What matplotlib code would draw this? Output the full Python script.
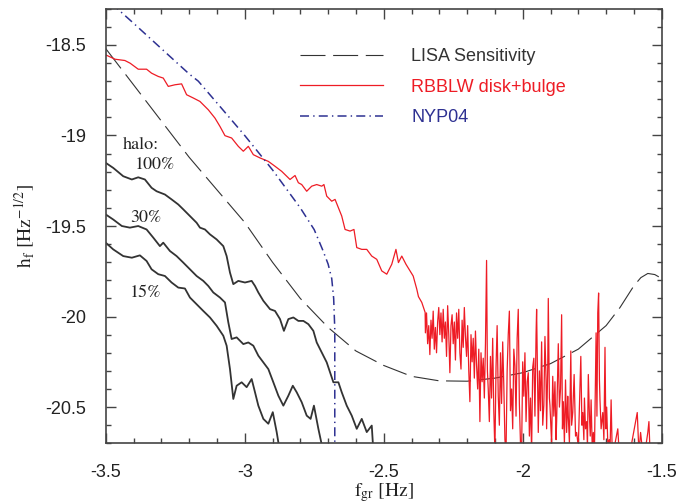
import matplotlib
matplotlib.use("Agg")
import matplotlib.pyplot as plt
from matplotlib.ticker import MultipleLocator, FuncFormatter

# ---------------- data ----------------
lisa_x = [-3.5, -3.4, -3.3, -3.2, -3.1, -3.0, -2.9, -2.8, -2.7, -2.6, -2.5, -2.4,
          -2.3, -2.2, -2.1, -2.0, -1.9, -1.8, -1.7, -1.65, -1.6, -1.575, -1.55, -1.525, -1.5]
lisa_y = [-18.52, -18.72, -18.92, -19.12, -19.30, -19.48, -19.70, -19.90, -20.06, -20.19,
          -20.27, -20.33, -20.355, -20.357, -20.34, -20.31, -20.26, -20.18, -20.05, -19.95,
          -19.83, -19.785, -19.762, -19.768, -19.79]

nyp_x = [-3.48, -3.4, -3.3, -3.2, -3.167, -3.1, -3.0, -2.9, -2.8, -2.75, -2.72, -2.70,
         -2.687, -2.68, -2.676, -2.676]
nyp_y = [-18.27, -18.38, -18.52, -18.66, -18.70, -18.82, -19.00, -19.19, -19.40, -19.52,
         -19.63, -19.71, -19.79, -19.90, -20.07, -20.80]

# RBBLW: smooth-ish upper part
rb_top_x = [-3.500, -3.466, -3.431, -3.412, -3.383, -3.353, -3.335, -3.311, -3.293, -3.275,
            -3.251, -3.227, -3.209, -3.185, -3.161, -3.131, -3.107, -3.089, -3.071, -3.047,
            -3.023, -3.005, -2.987, -2.969, -2.945, -2.915, -2.891, -2.867, -2.855, -2.837,
            -2.819, -2.807, -2.795, -2.777, -2.759, -2.741, -2.723, -2.715, -2.705, -2.687,
            -2.675, -2.663, -2.651, -2.639, -2.621, -2.607, -2.597, -2.579, -2.561, -2.543,
            -2.525, -2.507, -2.489, -2.471, -2.456, -2.447, -2.435, -2.420, -2.405, -2.394,
            -2.381, -2.375, -2.363, -2.351]
rb_top_y = [-18.555, -18.579, -18.586, -18.601, -18.634, -18.634, -18.656, -18.674, -18.683, -18.729,
            -18.720, -18.715, -18.775, -18.793, -18.812, -18.858, -18.904, -18.950, -19.001, -19.014,
            -19.060, -19.087, -19.060, -19.106, -19.124, -19.143, -19.170, -19.198, -19.216, -19.243,
            -19.221, -19.261, -19.271, -19.308, -19.280, -19.271, -19.280, -19.271, -19.335, -19.363,
            -19.353, -19.399, -19.445, -19.519, -19.528, -19.519, -19.619, -19.629, -19.629, -19.666,
            -19.684, -19.748, -19.766, -19.711, -19.629, -19.702, -19.666, -19.711, -19.748, -19.776,
            -19.849, -19.890, -19.922, -19.977]
# RBBLW: noisy high-frequency part
rb_noise_x = [-2.350, -2.346, -2.342, -2.338, -2.334, -2.330, -2.326, -2.322, -2.318, -2.314,
              -2.310, -2.306, -2.302, -2.298, -2.294, -2.290, -2.286, -2.282, -2.278, -2.274,
              -2.270, -2.266, -2.262, -2.258, -2.254, -2.250, -2.246, -2.242, -2.238, -2.234,
              -2.230, -2.226, -2.222, -2.218, -2.214, -2.210, -2.206, -2.202, -2.198, -2.194,
              -2.190, -2.186, -2.182, -2.178, -2.174, -2.170, -2.166, -2.162, -2.158, -2.154,
              -2.150, -2.146, -2.142, -2.138, -2.134, -2.130, -2.127, -2.124, -2.120, -2.116,
              -2.112, -2.108, -2.104, -2.100, -2.096, -2.092, -2.088, -2.084, -2.080, -2.076,
              -2.072, -2.068, -2.064, -2.060, -2.056, -2.052, -2.048, -2.044, -2.040, -2.036,
              -2.032, -2.028, -2.024, -2.020, -2.016, -2.012, -2.008, -2.004, -2.000, -1.996,
              -1.992, -1.988, -1.984, -1.980, -1.976, -1.972, -1.968, -1.964, -1.960, -1.956,
              -1.952, -1.950, -1.946, -1.944, -1.940, -1.936, -1.932, -1.928, -1.924, -1.920,
              -1.916, -1.914, -1.910, -1.908, -1.904, -1.902, -1.896, -1.892, -1.888, -1.884,
              -1.880, -1.878, -1.874, -1.872, -1.868, -1.864, -1.860, -1.857, -1.854, -1.850,
              -1.846, -1.842, -1.838, -1.836, -1.832, -1.827, -1.824, -1.820, -1.817, -1.815,
              -1.810, -1.806, -1.800, -1.795, -1.791, -1.787, -1.784, -1.780, -1.778, -1.774,
              -1.770, -1.767, -1.764, -1.760, -1.757, -1.754, -1.750, -1.746, -1.742, -1.736,
              -1.733, -1.730, -1.727, -1.724, -1.722, -1.718, -1.712, -1.708, -1.704, -1.701,
              -1.698, -1.694, -1.689, -1.686, -1.682, -1.678, -1.674, -1.658, -1.653, -1.620,
              -1.588, -1.582, -1.576, -1.565, -1.550, -1.546, -1.542]
rb_noise_y = [-20.09, -19.98, -20.15, -20.05, -20.21, -20.02, -20.12, -19.97, -20.18, -20.06,
              -20.20, -20.03, -19.95, -20.10, -19.98, -20.14, -19.96, -20.12, -20.03, -20.22,
              -19.94, -20.10, -20.31, -20.05, -19.99, -20.15, -20.03, -20.24, -19.98, -20.12,
              -19.96, -20.20, -20.29, -20.02, -20.17, -19.95, -20.11, -20.22, -20.05, -20.30,
              -20.47, -20.10, -20.25, -20.12, -20.34, -20.08, -20.27, -20.40, -20.18, -20.58,
              -20.20, -20.36, -20.23, -20.45, -20.15, -19.69, -20.30, -20.40, -20.58, -20.22,
              -20.45, -20.12, -20.52, -20.75, -20.28, -20.05, -20.44, -20.60, -20.20, -20.48,
              -20.14, -20.38, -20.68, -20.75, -20.30, -20.10, -19.97, -20.52, -20.40, -20.62,
              -20.18, -20.27, -20.55, -20.12, -19.96, -20.48, -20.70, -20.75, -20.25, -20.44,
              -20.20, -20.58, -20.36, -20.31, -20.66, -20.45, -20.75, -20.28, -20.23, -20.55,
              -20.10, -19.96, -20.40, -20.64, -20.30, -20.52, -20.14, -20.60, -20.49, -20.11,
              -20.35, -20.62, -20.28, -19.90, -20.45, -20.49, -20.70, -20.33, -20.55, -20.36,
              -20.68, -20.58, -20.30, -20.15, -20.50, -20.40, -19.99, -20.62, -20.47, -20.70,
              -20.35, -20.64, -20.44, -20.55, -20.70, -20.19, -20.60, -20.53, -20.40, -20.32,
              -20.66, -20.64, -20.72, -20.45, -20.22, -20.60, -20.53, -20.68, -20.45, -20.62,
              -20.58, -20.70, -20.32, -20.55, -20.66, -20.46, -20.72, -20.64, -20.75, -20.09,
              -20.55, -19.98, -19.87, -20.35, -20.46, -20.62, -20.53, -20.68, -20.17, -20.62,
              -20.50, -20.70, -20.68, -20.75, -20.46, -20.75, -20.75, -20.62, -20.75, -20.80,
              -20.53, -20.75, -20.64, -20.80, -20.64, -20.58, -20.75]

h100_x = [-3.500, -3.473, -3.437, -3.406, -3.383, -3.359, -3.335, -3.317, -3.287, -3.263,
          -3.239, -3.221, -3.197, -3.173, -3.161, -3.143, -3.125, -3.101, -3.077, -3.065,
          -3.053, -3.041, -3.023, -2.999, -2.975, -2.963, -2.951, -2.933, -2.909, -2.891,
          -2.873, -2.859, -2.843, -2.825, -2.807, -2.789, -2.771, -2.753, -2.741, -2.723,
          -2.705, -2.693, -2.681, -2.663, -2.651, -2.633, -2.615, -2.597, -2.579, -2.561,
          -2.543, -2.537]
h100_y = [-19.151, -19.179, -19.225, -19.243, -19.231, -19.243, -19.289, -19.308, -19.326, -19.353,
          -19.381, -19.408, -19.445, -19.482, -19.509, -19.519, -19.546, -19.574, -19.611, -19.666,
          -19.757, -19.821, -19.803, -19.812, -19.803, -19.831, -19.867, -19.913, -19.959, -19.969,
          -20.014, -20.079, -20.014, -20.005, -20.024, -20.024, -20.042, -20.079, -20.143, -20.198,
          -20.253, -20.308, -20.363, -20.363, -20.418, -20.492, -20.547, -20.620, -20.565, -20.638,
          -20.602, -20.750]

h30_x = [-3.500, -3.473, -3.442, -3.413, -3.383, -3.353, -3.329, -3.305, -3.293, -3.269,
         -3.245, -3.221, -3.197, -3.173, -3.149, -3.131, -3.113, -3.089, -3.071, -3.059,
         -3.047, -3.029, -3.005, -2.987, -2.969, -2.951, -2.933, -2.915, -2.897, -2.879,
         -2.861, -2.843, -2.827, -2.813, -2.795, -2.777, -2.763, -2.751, -2.735, -2.717]
h30_y = [-19.436, -19.464, -19.500, -19.509, -19.500, -19.519, -19.564, -19.611, -19.592, -19.638,
         -19.666, -19.702, -19.739, -19.776, -19.803, -19.831, -19.867, -19.895, -19.922, -20.032,
         -20.124, -20.115, -20.152, -20.143, -20.161, -20.216, -20.253, -20.290, -20.363, -20.437,
         -20.492, -20.437, -20.382, -20.418, -20.473, -20.547, -20.565, -20.492, -20.620, -20.750]

h15_x = [-3.500, -3.473, -3.437, -3.406, -3.377, -3.353, -3.335, -3.311, -3.287, -3.263,
         -3.239, -3.215, -3.197, -3.173, -3.149, -3.125, -3.101, -3.077, -3.065, -3.053,
         -3.041, -3.029, -3.011, -2.993, -2.975, -2.963, -2.951, -2.933, -2.915, -2.899,
         -2.885, -2.873]
h15_y = [-19.592, -19.629, -19.666, -19.675, -19.662, -19.693, -19.739, -19.766, -19.776, -19.812,
         -19.840, -19.845, -19.895, -19.932, -19.969, -20.005, -20.051, -20.106, -20.161, -20.290,
         -20.455, -20.382, -20.363, -20.390, -20.345, -20.418, -20.492, -20.565, -20.592, -20.528,
         -20.638, -20.750]

halo_labels = ["halo:", "100%", "30%", "15%"]
halo_x = [-3.438, -3.395, -3.413, -3.413]
halo_y = [-19.051, -19.161, -19.453, -19.871]

legend_labels = ["LISA Sensitivity", "RBBLW disk+bulge", "NYP04"]
xticks = [-3.5, -3.0, -2.5, -2.0, -1.5]
yticks = [-18.5, -19.0, -19.5, -20.0, -20.5]

# ---------------- style ----------------
plt.rcParams['axes.unicode_minus'] = False
plt.rcParams['lines.scale_dashes'] = False
plt.rcParams['mathtext.fontset'] = 'stix'
sans = ['Liberation Sans', 'DejaVu Sans']

RED = '#ee1c25'
BLUE = '#2e3192'
DARK = '#333333'

fig = plt.figure(figsize=(6.9, 5.04), dpi=100)
ax = fig.add_axes([0.1532, 0.1204, 0.8058, 0.8623])

ax.plot(lisa_x, lisa_y, color=DARK, lw=0.8, dashes=(18, 5.5), label=legend_labels[0])
ax.plot(rb_top_x + rb_noise_x, rb_top_y + rb_noise_y, color=RED, lw=0.9, label=legend_labels[1])
ax.plot(nyp_x, nyp_y, color=BLUE, lw=1.1, dashes=(6.5, 3, 1, 3), label=legend_labels[2])
for xs, ys in [(h100_x, h100_y), (h30_x, h30_y), (h15_x, h15_y)]:
    ax.plot(xs, ys, color=DARK, lw=1.3)

for t, x, y in zip(halo_labels, halo_x, halo_y):
    ax.text(x, y, t, fontsize=13, family='STIXGeneral', color='#222222',
            ha='left', va='center')

ax.set_xlim(-3.5, -1.5)
ax.set_ylim(-20.7, -18.3)
ax.set_xticks(xticks)
ax.set_yticks(yticks)
ax.xaxis.set_minor_locator(MultipleLocator(0.1))
ax.yaxis.set_minor_locator(MultipleLocator(0.1))
fmt = FuncFormatter(lambda v, p: '%g' % v)
ax.xaxis.set_major_formatter(fmt)
ax.yaxis.set_major_formatter(fmt)
ax.tick_params(which='both', direction='in', top=True, right=True, color='#444444', width=1.0)
ax.tick_params(which='major', length=7.5)
ax.tick_params(which='minor', length=3.8)
ax.tick_params(axis='x', which='major', pad=15)
ax.tick_params(axis='y', which='major', pad=14)
for lab in ax.get_xticklabels() + ax.get_yticklabels():
    lab.set_fontfamily(sans)
    lab.set_fontsize(13)
    lab.set_color('#222222')
for s in ax.spines.values():
    s.set_color('#444444')
    s.set_linewidth(1.2)

ax.set_xlabel(r'$\mathrm{f_{gr}}\ \left[\mathrm{Hz}\right]$', fontsize=14, labelpad=0, color='#222222')
ax.set_ylabel(r'$\mathrm{h_{f}}\ \left[\mathrm{Hz^{-1/2}}\right]$', fontsize=14, labelpad=6, color='#222222')

leg = ax.legend(loc='upper left', bbox_to_anchor=(0.3495, 0.909), frameon=False,
                borderpad=0, borderaxespad=0, handlelength=4.6, handletextpad=1.55,
                labelspacing=0.75, prop={'family': sans, 'size': 13})
for txt, c in zip(leg.get_texts(), [DARK, RED, BLUE]):
    txt.set_color(c)

fig.savefig('out.png', dpi=100)
